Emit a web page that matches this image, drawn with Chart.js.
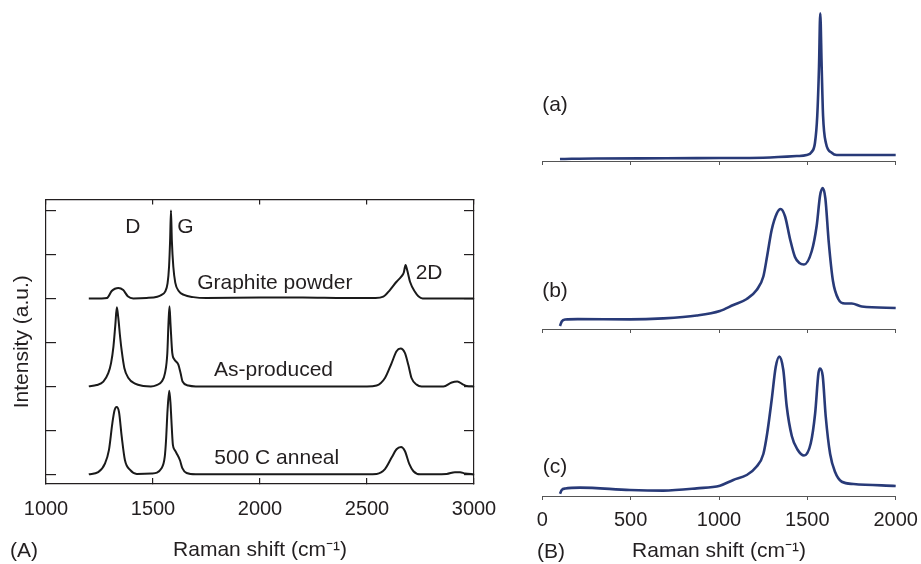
<!DOCTYPE html>
<html>
<head>
<meta charset="utf-8">
<script src="https://cdn.jsdelivr.net/npm/chart.js@4.4.1/dist/chart.umd.min.js"></script>
<style>
  html, body { margin: 0; padding: 0; background: #fff; }
  body { width: 921px; height: 564px; position: relative; overflow: hidden;
         font-family: "Liberation Sans", Arial, Helvetica, sans-serif; color: #231f20; }
  canvas { position: absolute; }
  .tag { position: absolute; font-size: 21px; line-height: 24px; }
</style>
</head>
<body>
<canvas id="chartA" width="510" height="374" style="left:0;top:190px"></canvas>
<canvas id="chartBa" width="391" height="171" style="left:530px;top:0"></canvas>
<canvas id="chartBb" width="391" height="171" style="left:530px;top:168px"></canvas>
<canvas id="chartBc" width="391" height="229" style="left:530px;top:335px"></canvas>
<div class="tag" style="left:10px;top:538px">(A)</div>
<div class="tag" style="left:537px;top:539px">(B)</div>
<script>
// panel A: Raman shift (cm-1) and intensity above each trace's own baseline
const graphiteX = [1200, 1260, 1285, 1307, 1322, 1338, 1361, 1382, 1408, 1470, 1520, 1540, 1556, 1568, 1575, 1580, 1584, 1588, 1595, 1604, 1620, 1645, 1688, 1750, 2000, 2200, 2400, 2540, 2576, 2607, 2638, 2661, 2672, 2680, 2688, 2701, 2724, 2740, 2760, 3000];
const graphiteY = [0, 0, 0.01, 0.17, 0.22, 0.24, 0.19, 0.05, 0, 0.01, 0.04, 0.08, 0.15, 0.34, 0.72, 1.33, 2.0, 1.33, 0.72, 0.36, 0.17, 0.08, 0.03, 0.01, 0.02, 0.02, 0.01, 0.01, 0.04, 0.19, 0.38, 0.5, 0.59, 0.76, 0.64, 0.38, 0.15, 0.05, 0, 0];

const producedX = [1200, 1237, 1268, 1291, 1304, 1315, 1324, 1331, 1338, 1346, 1354, 1366, 1385, 1416, 1455, 1490, 1517, 1541, 1556, 1567, 1572, 1577, 1582, 1590, 1600, 1618, 1629, 1638, 1665, 1700, 2500, 2545, 2584, 2615, 2638, 2657, 2677, 2693, 2708, 2732, 2755, 2857, 2896, 2922, 2950, 2966, 3000];
const producedY = [0, 0.03, 0.11, 0.3, 0.53, 0.9, 1.4, 1.8, 1.55, 1.14, 0.8, 0.42, 0.19, 0.06, 0.01, 0, 0.03, 0.11, 0.3, 0.76, 1.4, 1.82, 1.4, 0.76, 0.61, 0.5, 0.3, 0.11, 0.02, 0, 0, 0.02, 0.19, 0.53, 0.8, 0.86, 0.76, 0.49, 0.19, 0.04, 0, 0, 0.09, 0.11, 0.04, 0.01, 0];

const annealX = [1200, 1244, 1276, 1294, 1310, 1320, 1330, 1341, 1354, 1369, 1393, 1424, 1494, 1540, 1555, 1561, 1568, 1576, 1582, 1586, 1593, 1602, 1610, 1626, 1637, 1657, 1700, 2500, 2545, 2584, 2615, 2638, 2659, 2677, 2698, 2717, 2748, 2872, 2911, 2935, 2958, 3000];
const annealY = [0, 0.05, 0.25, 0.55, 1.16, 1.45, 1.53, 1.42, 0.85, 0.32, 0.1, 0.01, 0.02, 0.14, 0.4, 0.78, 1.46, 1.9, 1.6, 1.23, 0.67, 0.55, 0.48, 0.32, 0.14, 0.03, 0, 0, 0.01, 0.12, 0.38, 0.57, 0.62, 0.53, 0.23, 0.07, 0, 0.01, 0.05, 0.05, 0.02, 0];

const stackOffsets = [4, 2, 0];
const namesA = ['Graphite powder', 'As-produced', '500 C anneal'];
const ticksA = [1000, 1500, 2000, 2500, 3000];

// panel B: normalised intensity for (a), (b), (c)
const aX = [100, 300, 700, 1000, 1250, 1440, 1496, 1524, 1543, 1556, 1566, 1573, 1581, 1589, 1605, 1638, 1666, 2000];
const aY = [0.013, 0.017, 0.018, 0.02, 0.022, 0.033, 0.04, 0.06, 0.12, 0.3, 0.63, 0.985, 0.63, 0.3, 0.12, 0.055, 0.04, 0.04];

const bX = [100, 110, 130, 200, 496, 685, 874, 1005, 1081, 1157, 1213, 1251, 1273, 1298, 1327, 1349, 1374, 1402, 1430, 1455, 1481, 1525, 1553, 1572, 1587, 1602, 1621, 1645, 1675, 1713, 1751, 1808, 2000];
const bY = [0.02, 0.05, 0.063, 0.066, 0.064, 0.071, 0.09, 0.12, 0.16, 0.2, 0.26, 0.35, 0.49, 0.66, 0.77, 0.8, 0.75, 0.6, 0.48, 0.44, 0.43, 0.52, 0.69, 0.89, 0.94, 0.87, 0.58, 0.32, 0.2, 0.17, 0.17, 0.15, 0.14];

const cX = [100, 110, 130, 213, 496, 685, 874, 1005, 1081, 1157, 1213, 1251, 1273, 1298, 1321, 1342, 1364, 1383, 1412, 1444, 1481, 1519, 1544, 1563, 1572, 1587, 1604, 1629, 1657, 1695, 1761, 2000];
const cY = [0.015, 0.04, 0.05, 0.056, 0.04, 0.036, 0.051, 0.069, 0.107, 0.14, 0.196, 0.28, 0.42, 0.64, 0.86, 0.93, 0.84, 0.6, 0.4, 0.31, 0.27, 0.35, 0.55, 0.82, 0.85, 0.8, 0.53, 0.28, 0.16, 0.095, 0.08, 0.067];

const ink = '#231f20';
const navy = '#283a78';
const fontFamily = '"Liberation Sans", Arial, Helvetica, sans-serif';
Chart.defaults.font.family = fontFamily;
Chart.defaults.color = ink;

const zip = (xs, ys, off) => xs.map((x, i) => ({ x: x, y: ys[i] + (off || 0) }));
const plain = v => String(v);

// writes text at data coordinates
const textLabels = {
  id: 'textLabels',
  afterDatasetsDraw(chart, args, opts) {
    const { ctx, scales } = chart;
    ctx.save();
    ctx.font = opts.size + 'px ' + fontFamily;
    ctx.fillStyle = ink;
    ctx.textAlign = 'center';
    ctx.textBaseline = 'middle';
    opts.items.forEach(it => {
      ctx.fillText(it.text, scales.x.getPixelForValue(it.x), scales.y.getPixelForValue(it.y));
    });
    ctx.restore();
  }
};

const innerAxis = (pos, len, extra) => Object.assign({
  type: 'linear',
  position: pos,
  grid: { drawOnChartArea: false, drawTicks: true, tickLength: len, color: ink, lineWidth: 1.2 },
  border: { display: true, color: ink, width: 1.2 },
}, extra);

new Chart(document.getElementById('chartA'), {
  type: 'line',
  data: {
    datasets: [
      { label: namesA[0], data: zip(graphiteX, graphiteY, stackOffsets[0]) },
      { label: namesA[1], data: zip(producedX, producedY, stackOffsets[1]) },
      { label: namesA[2], data: zip(annealX, annealY, stackOffsets[2]) }
    ].map(d => Object.assign(d, {
      borderColor: '#1a1a1a', borderWidth: 2, pointRadius: 0, fill: false,
      cubicInterpolationMode: 'monotone', clip: false
    }))
  },
  options: {
    responsive: false,
    animation: false,
    layout: { padding: 0 },
    plugins: {
      legend: { display: false },
      tooltip: { enabled: false },
      textLabels: {
        size: 21,
        items: [
          { text: 'D', x: 1406, y: 5.62 },
          { text: 'G', x: 1652, y: 5.62 },
          { text: namesA[0], x: 2069, y: 4.35 },
          { text: '2D', x: 2790, y: 4.58 },
          { text: namesA[1], x: 2063, y: 2.37 },
          { text: namesA[2], x: 2078, y: 0.36 }
        ]
      }
    },
    scales: {
      x: innerAxis('bottom', -6, {
        min: 1000, max: 3000,
        afterBuildTicks: s => { s.ticks = ticksA.map(v => ({ value: v })); },
        ticks: { font: { size: 20, lineHeight: 2.9 }, color: ink, padding: 2, maxRotation: 0, callback: plain },
        title: { display: true, text: 'Raman shift (cm\u207B\u00B9)', font: { size: 21 }, color: ink, padding: { top: 0, bottom: 1.4 } },
        afterFit: s => { s.height = 80; }
      }),
      x2: innerAxis('top', -5, {
        min: 1000, max: 3000,
        afterBuildTicks: s => { s.ticks = ticksA.map(v => ({ value: v })); },
        ticks: { display: false },
        afterFit: s => { s.height = 9.5; }
      }),
      y: innerAxis('left', -10, {
        min: -0.22, max: 6.25,
        ticks: { display: false, stepSize: 1, includeBounds: false },
        title: { display: true, text: 'Intensity (a.u.)', font: { size: 21 }, color: ink, padding: { top: 9.9, bottom: 0 } },
        afterFit: s => { s.width = 46; }
      }),
      y2: innerAxis('right', -10, {
        min: -0.22, max: 6.25,
        ticks: { display: false, stepSize: 1, includeBounds: false },
        afterFit: s => { s.width = 36; }
      })
    }
  },
  plugins: [textLabels]
});

function makeB(id, xs, ys, tag, tagY, last) {
  new Chart(document.getElementById(id), {
    type: 'line',
    data: {
      datasets: [{
        label: tag, data: zip(xs, ys), borderColor: navy, borderWidth: 2.6,
        pointRadius: 0, fill: false, cubicInterpolationMode: 'monotone', clip: false
      }]
    },
    options: {
      responsive: false,
      animation: false,
      layout: { padding: { left: 12.3, right: 25.3, top: 11, bottom: 0 } },
      plugins: {
        legend: { display: false },
        tooltip: { enabled: false },
        textLabels: { size: 21, items: [{ text: tag, x: 72, y: tagY }] }
      },
      scales: {
        x: {
          type: 'linear', position: 'bottom', min: 0, max: 2000,
          grid: { drawOnChartArea: false, drawTicks: true, tickLength: 4, color: '#555', lineWidth: 1 },
          border: { display: true, color: '#555', width: 1 },
          ticks: { display: last, stepSize: 500, font: { size: 20, lineHeight: 1.8 }, color: ink, padding: 2, maxRotation: 0, callback: plain },
          title: { display: last, text: 'Raman shift (cm\u207B\u00B9)', font: { size: 21 }, color: ink, padding: { top: 0, bottom: 0.4 } },
          afterFit: s => { s.height = last ? 68 : 10; }
        },
        y: { display: false, min: 0, max: 1 }
      }
    },
    plugins: [textLabels]
  });
}

makeB('chartBa', aX, aY, '(a)', 0.37, false);
makeB('chartBb', bX, bY, '(b)', 0.25, false);
makeB('chartBc', cX, cY, '(c)', 0.19, true);
</script>
</body>
</html>
